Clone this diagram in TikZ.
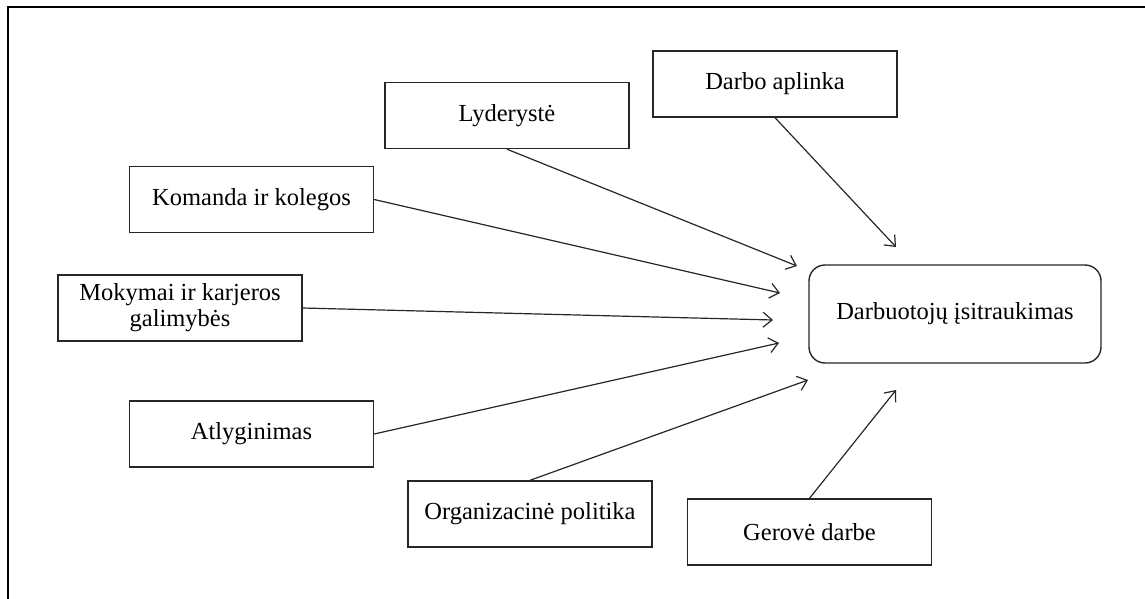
\documentclass[tikz,border=0pt]{standalone}
\usepackage{fontspec}
\setmainfont{Liberation Serif}
\usetikzlibrary{arrows.meta}
\begin{document}
\begin{tikzpicture}[x=1pt,y=-1pt,
  factor/.style={draw=black!85, line width=1.4pt, fill=white, minimum width=244pt, minimum height=66pt,
    inner sep=0pt, align=center, font=\fontsize{24.5}{26}\selectfont},
  target/.style={factor, minimum width=292pt, minimum height=98pt, rounded corners=16pt},
  conn/.style={draw=black!85, line width=1.2pt, -{Straight Barb[length=9pt,width=15pt,line width=1.2pt]}}]
\useasboundingbox (0,0) rectangle (1145,599);
\draw[line width=2pt] (8,599) -- (8,7) -- (1145,7);

\node[factor] (dark) at (775,84) {Darbo aplinka};
\node[factor] (lyd) at (507,115.5) {Lyderystė};
\node[factor] (kom) at (251.5,199.5) {Komanda ir kolegos};
\node[factor] (mok) at (180,308) {Mokymai ir karjeros\\galimybės};
\node[factor] (atl) at (251.5,434) {Atlyginimas};
\node[factor] (org) at (530,514) {Organizacinė politika};
\node[factor] (ger) at (809.5,532) {Gerovė darbe};
\node[target] (dis) at (955,314) {Darbuotojų įsitraukimas};

\coordinate (e1) at (896,247);
\coordinate (e2) at (797,266);
\coordinate (e3) at (780,293);
\coordinate (e4) at (773,320);
\coordinate (e5) at (779,343);
\coordinate (e6) at (808,380);
\coordinate (e7) at (896,390);

\draw[conn] (dark.south) -- (e1);
\draw[conn] (lyd.south) -- (e2);
\draw[conn] (kom.east) -- (e3);
\draw[conn] (mok.east) -- (e4);
\draw[conn] (atl.east) -- (e5);
\draw[conn] (org.north) -- (e6);
\draw[conn] (ger.north) -- (e7);
\end{tikzpicture}
\end{document}
